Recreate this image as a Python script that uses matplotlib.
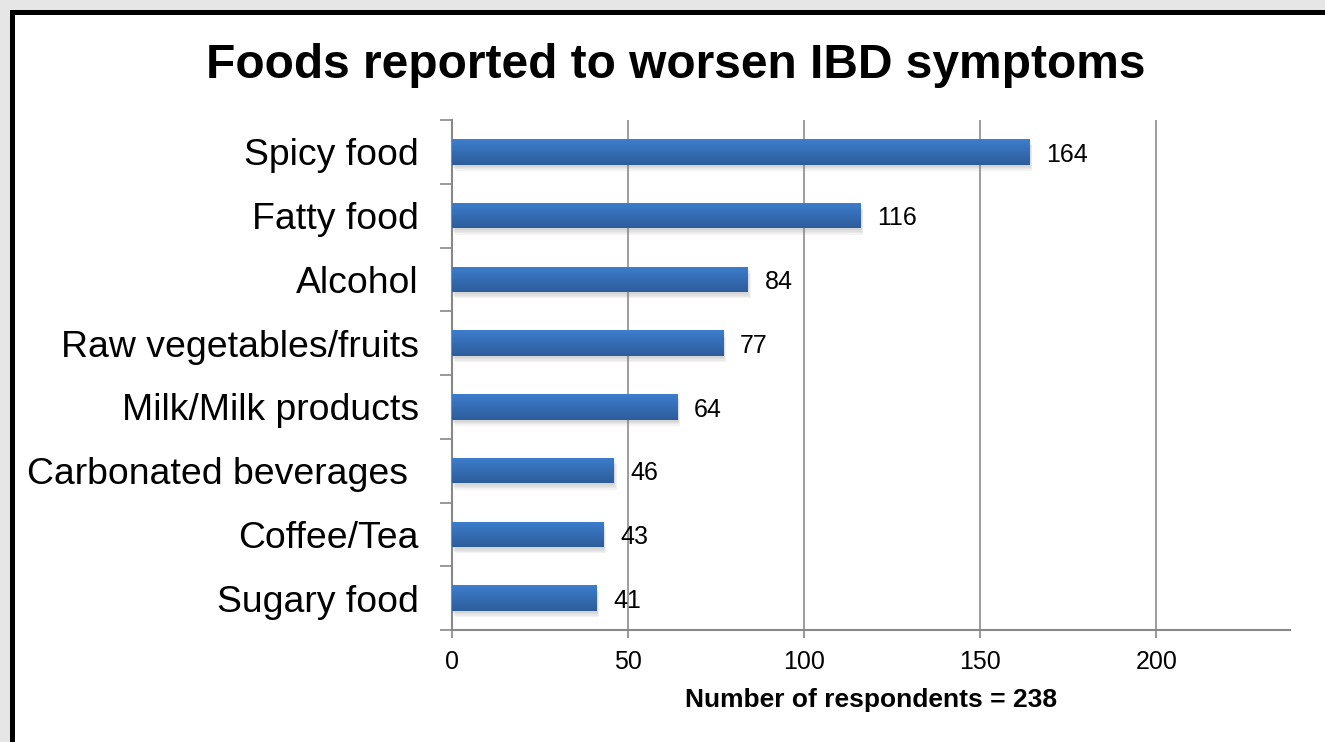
import numpy as np
import matplotlib
matplotlib.use("Agg")
import matplotlib.pyplot as plt
from matplotlib.patches import Rectangle
from matplotlib import patheffects as pe
from matplotlib.colors import LinearSegmentedColormap

plt.rcParams['font.family'] = ['Liberation Sans', 'DejaVu Sans']

# --- donnees ---
categories = ['Spicy food', 'Fatty food', 'Alcohol', 'Raw vegetables/fruits',
              'Milk/Milk products', 'Carbonated beverages ', 'Coffee/Tea', 'Sugary food']
valeurs = [164, 116, 84, 77, 64, 46, 43, 41]
xticks = [0, 50, 100, 150, 200]
n_total = 238

W, H = 1325, 742
fig = plt.figure(figsize=(W / 100, H / 100), dpi=100)
fig.patch.set_facecolor('#e6e6e6')

# cadre noir (depasse a droite et en bas)
cadre = Rectangle((12 / W, -0.05), 1.2, 1 - 11.5 / H + 0.05, transform=fig.transFigure,
                  facecolor='white', edgecolor='black', linewidth=3.6, zorder=0)
fig.patches.append(cadre)

ax = fig.add_axes([452 / W, 1 - 630 / H, (1290 - 452) / W, (630 - 120) / H])
ax.set_zorder(2)
ax.set_facecolor('none')

y = np.arange(len(categories))
h = 0.4
cmap = LinearSegmentedColormap.from_list('barre', ['#3d7ecd', '#2d5c9b'])
grad = np.linspace(0, 1, 64).reshape(-1, 1)

# ombre douce : plusieurs ombres legeres superposees
ombres = [pe.SimplePatchShadow(offset=(dx, dy), shadow_rgbFace='#808080', alpha=0.09)
          for dx, dy in [(0.5, -1.5), (1, -2.5), (1.5, -3.5), (2, -4.5)]]
barres = ax.barh(y, valeurs, height=h, color='#3470b8', zorder=3,
                 path_effects=ombres + [pe.Normal()])
for b, v, yy in zip(barres, valeurs, y):
    im = ax.imshow(grad, cmap=cmap, aspect='auto', extent=[0, v, yy + h / 2, yy - h / 2],
                   zorder=4, interpolation='bilinear')
    im.set_clip_path(b)
    ax.annotate(str(v), (v, yy), xytext=(12, -2), textcoords='offset points',
                va='center', ha='left', fontsize=18, zorder=5)

ax.set_xlim(0, n_total)
ax.set_ylim(len(categories) - 0.5, -0.5)

ax.set_yticks(y)
ax.set_yticklabels(categories, fontsize=26.9)
ax.set_yticks(np.arange(len(categories) + 1) - 0.5, minor=True)
ax.tick_params(axis='y', which='major', length=0, pad=24)
ax.tick_params(axis='y', which='minor', length=9, width=1.2, color='#888888')

ax.set_xticks(xticks)
ax.set_xticklabels([str(t) for t in xticks], fontsize=18)
ax.tick_params(axis='x', length=5.5, width=1.2, color='#888888', pad=9)

ax.grid(axis='x', color='#8c8c8c', linewidth=1.2, zorder=1)
ax.set_axisbelow(True)
for s in ['top', 'right']:
    ax.spines[s].set_visible(False)
for s in ['left', 'bottom']:
    ax.spines[s].set_color('#888888')
    ax.spines[s].set_linewidth(1.5)

ax.set_xlabel(f'Number of respondents = {n_total}', fontsize=19, fontweight='bold', labelpad=10)

fig.text(676 / W, 1 - 66 / H, 'Foods reported to worsen IBD symptoms', ha='center', va='center',
         fontsize=34.5, fontweight='bold')

fig.savefig('out.png', dpi=100, facecolor=fig.get_facecolor())
